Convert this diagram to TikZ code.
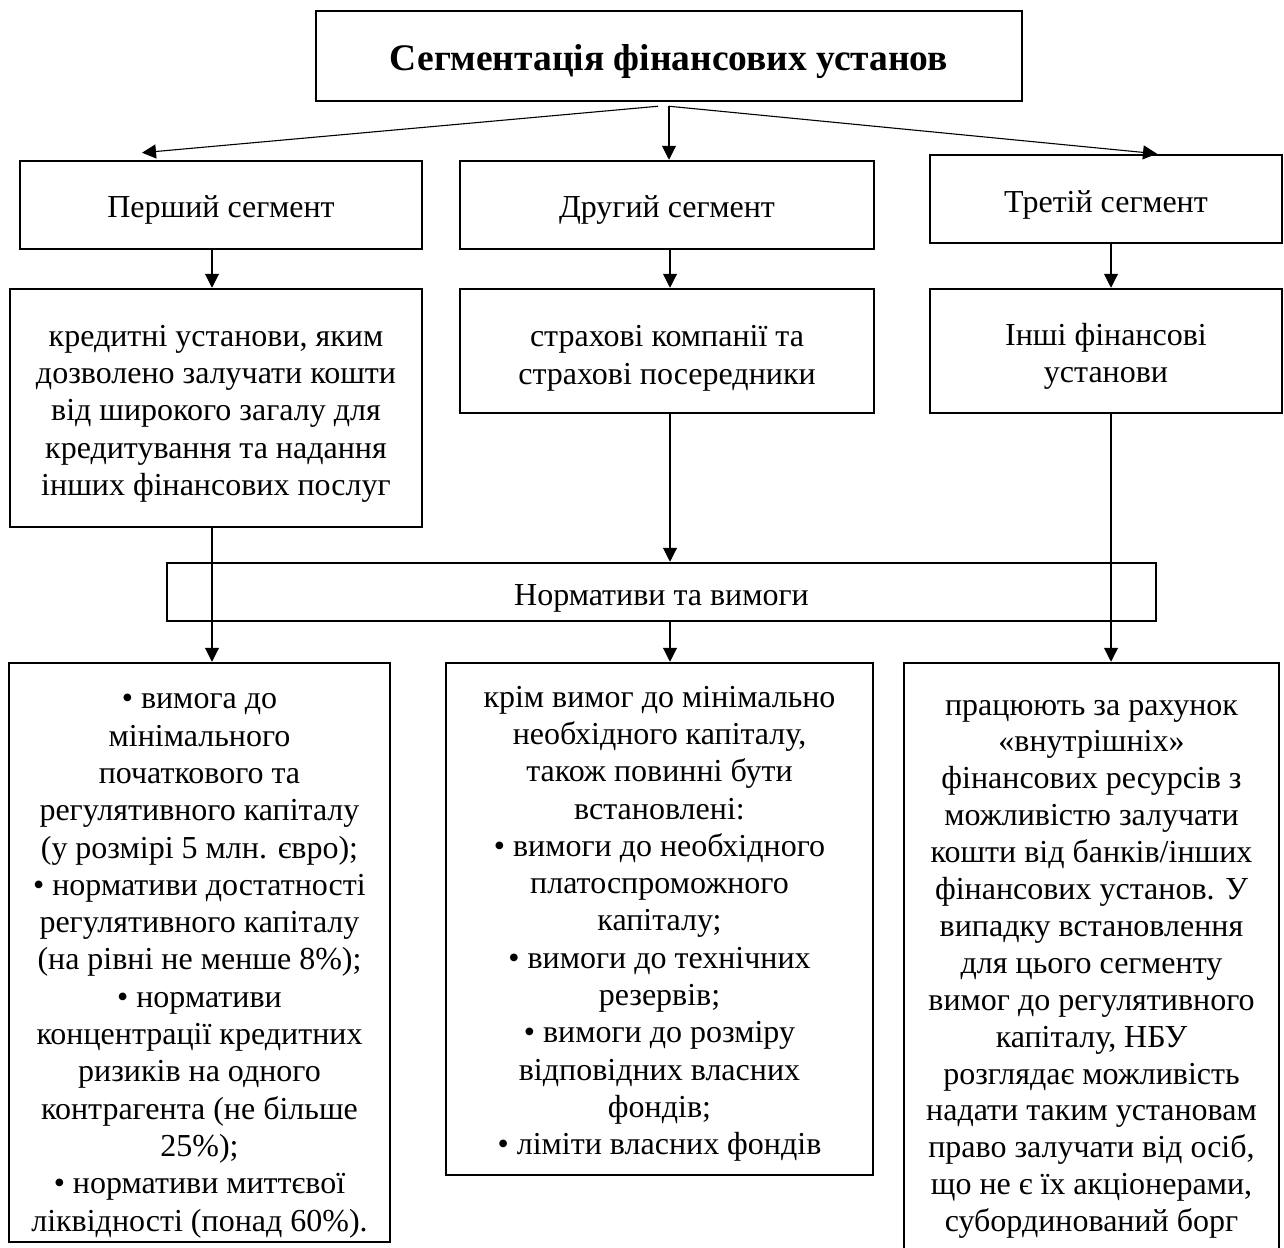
\documentclass[tikz,border=0pt]{standalone}
\usepackage{fontspec}
\setmainfont{Liberation Serif}
\usetikzlibrary{arrows.meta,calc}
\newcommand\txtlines[2]{\raisebox{-#1pt}[\height][\depth]{\begin{tabular}{@{}c@{}}#2\end{tabular}}}
\begin{document}
\begin{tikzpicture}[x=1pt,y=-1pt,
  box/.style={draw,line width=2.5pt,inner sep=0pt,font=\fontsize{32}{37.3}\selectfont},
  arr/.style={line width=1.1pt,-{Triangle[width=14pt,length=14pt]}}]
\useasboundingbox (0,0) rectangle (1284,1247);
\fill[white] (0,0) rectangle (1284,1247);
\clip (0,0) rectangle (1284,1247);

\node[box,minimum width=706pt,minimum height=90pt,font=\fontsize{37.5}{42}\selectfont\bfseries] (title) at (669,56) {\txtlines{6}{Сегментація фінансових установ}};

\node[box,minimum width=402pt,minimum height=88pt] (seg1) at (221,205) {\txtlines{5}{Перший сегмент}};
\node[box,minimum width=414pt,minimum height=88pt] (seg2) at (667,205) {\txtlines{5}{Другий сегмент}};
\node[box,minimum width=352pt,minimum height=88pt] (seg3) at (1106,199) {\txtlines{6}{Третій сегмент}};

\node[box,minimum width=412pt,minimum height=238pt] (d1) at (216,408) {\txtlines{5.5}{кредитні установи, яким\\дозволено залучати кошти\\від широкого загалу для\\кредитування та надання\\інших фінансових послуг}};
\node[box,minimum width=414pt,minimum height=124pt] (d2) at (667,351) {\txtlines{7}{страхові компанії та\\страхові посередники}};
\node[box,minimum width=352pt,minimum height=124pt] (d3) at (1106,351) {\txtlines{5.5}{Інші фінансові\\установи}};

\node[box,minimum width=989pt,minimum height=58pt] (norm) at (661.5,592) {\txtlines{6}{Нормативи та вимоги}};

\node[box,minimum width=381pt,minimum height=579pt] (r1) at (199.5,952.5) {\txtlines{10}{• вимога до\\мінімального\\початкового та\\регулятивного капіталу\\(у розмірі 5 млн. євро);\\• нормативи достатності\\регулятивного капіталу\\(на рівні не менше 8\%);\\• нормативи\\концентрації кредитних\\ризиків на одного\\контрагента (не більше\\25\%);\\• нормативи миттєвої\\ліквідності (понад 60\%).}};
\node[box,minimum width=427pt,minimum height=512pt] (r2) at (659.5,919) {\txtlines{4.5}{крім вимог до мінімально\\необхідного капіталу,\\також повинні бути\\встановлені:\\• вимоги до необхідного\\платоспроможного\\капіталу;\\• вимоги до технічних\\резервів;\\• вимоги до розміру\\відповідних власних\\фондів;\\• ліміти власних фондів}};
\node[box,minimum width=375pt,minimum height=590pt,font=\fontsize{32}{36.9}\selectfont] (r3) at (1091.5,958) {\txtlines{8}{працюють за рахунок\\«внутрішніх»\\фінансових ресурсів з\\можливістю залучати\\кошти від банків/інших\\фінансових установ. У\\випадку встановлення\\для цього сегменту\\вимог до регулятивного\\капіталу, НБУ\\розглядає можливість\\надати таким установам\\право залучати від осіб,\\що не є їх акціонерами,\\субординований борг}};

\coordinate (cA) at (212,0);
\coordinate (cB) at (670,0);
\coordinate (cC) at (1111,0);

\draw[arr] ([xshift=-11pt,yshift=-4pt]title.south) -- ([shift={(-79pt,7pt)}]seg1.north);
\draw[arr] ([yshift=-4pt]title.south) -- (title.south |- seg2.north);
\draw[arr] ([yshift=-4pt]title.south) -- ([xshift=51pt]seg3.north);

\draw[arr] (seg1.south -| cA) -- (d1.north -| cA);
\draw[arr] (seg2.south -| cB) -- (d2.north -| cB);
\draw[arr] (seg3.south -| cC) -- (d3.north -| cC);

\draw[arr] (d1.south -| cA) -- (r1.north -| cA);
\draw[arr] (d2.south -| cB) -- (norm.north -| cB);
\draw[arr] (norm.south -| cB) -- (r2.north -| cB);
\draw[arr] (d3.south -| cC) -- (r3.north -| cC);
\end{tikzpicture}
\end{document}
